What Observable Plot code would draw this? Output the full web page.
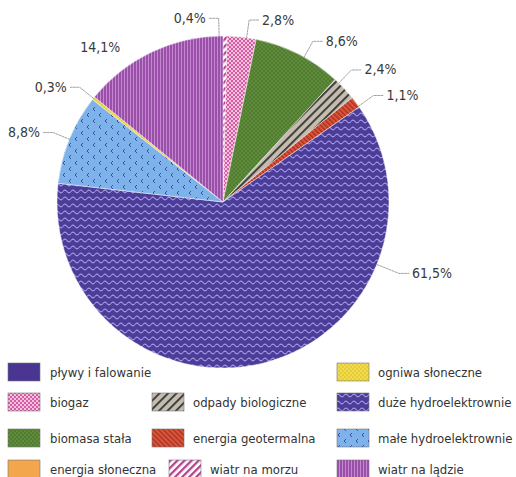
<!DOCTYPE html>
<html><head><meta charset="utf-8">
<script src="https://cdn.jsdelivr.net/npm/d3@7"></script>
<script src="https://cdn.jsdelivr.net/npm/@observablehq/plot@0.6"></script>
<style>body{margin:0;background:#fff}</style>
</head><body><div id="chart"></div>
<script>
// ---- data (clockwise from 12 o'clock) ----
const categories = ["wiatr na morzu","biogaz","biomasa stała","odpady biologiczne","energia geotermalna","duże hydroelektrownie","małe hydroelektrownie","ogniwa słoneczne","wiatr na lądzie"];
const shares = [0.4, 2.8, 8.6, 2.4, 1.1, 61.5, 8.8, 0.3, 14.1];
const legendRows = [
  ["pływy i falowanie", null, "ogniwa słoneczne"],
  ["biogaz", "odpady biologiczne", "duże hydroelektrownie"],
  ["biomasa stała", "energia geotermalna", "małe hydroelektrownie"],
  ["energia słoneczna", "wiatr na morzu", "wiatr na lądzie"]
];

const FONT = "'Liberation Sans Narrow','DejaVu Sans Condensed','Roboto',sans-serif";
const W = 516, H = 477;

// ---- pattern styles ----
const patternDefs = {
  "pływy i falowanie": {base: "#4b3592"},
  "energia słoneczna": {base: "#f3a64c"},
  "biogaz": {base: "#d65ba3", w: 4, h: 4, draw: p => {
    p.append("circle").attr("cx", 1).attr("cy", 1).attr("r", 1).attr("fill", "#fbe6f2");
    p.append("circle").attr("cx", 3).attr("cy", 3).attr("r", 1).attr("fill", "#fbe6f2");
  }},
  "biomasa stała": {base: "#5f8c3b", w: 4, h: 4, draw: p => {
    p.append("circle").attr("cx", 1).attr("cy", 1).attr("r", 0.8).attr("fill", "#3e6726");
    p.append("circle").attr("cx", 3).attr("cy", 3).attr("r", 0.8).attr("fill", "#3e6726");
  }},
  "ogniwa słoneczne": {base: "#f3dc4a", w: 4, h: 4, draw: p => {
    p.append("circle").attr("cx", 1).attr("cy", 1).attr("r", 0.7).attr("fill", "#cdb02a");
    p.append("circle").attr("cx", 3).attr("cy", 3).attr("r", 0.7).attr("fill", "#cdb02a");
  }},
  "odpady biologiczne": {base: "#c3bcaf", w: 6, h: 6, rot: 45, draw: p => {
    p.append("rect").attr("x", 0).attr("y", 0).attr("width", 1.8).attr("height", 6).attr("fill", "#343434");
  }},
  "energia geotermalna": {base: "#d8543a", w: 3.5, h: 3.5, rot: -45, draw: p => {
    p.append("rect").attr("x", 0).attr("y", 0).attr("width", 1.2).attr("height", 3.5).attr("fill", "#a32e1e");
  }},
  "wiatr na morzu": {base: "#ffffff", w: 5, h: 5, rot: 45, draw: p => {
    p.append("rect").attr("x", 0).attr("y", 0).attr("width", 2.3).attr("height", 5).attr("fill", "#b3418d");
  }},
  "duże hydroelektrownie": {base: "#4b3d98", w: 8, h: 7, draw: p => {
    p.append("path").attr("d", "M0,3.5 Q2,0.8 4,3.5 T8,3.5").attr("fill", "none")
      .attr("stroke", "#a59ce6").attr("stroke-width", 1.1);
  }},
  "małe hydroelektrownie": {base: "#7db2ea", w: 12, h: 12, draw: p => {
    p.append("path").attr("d", "M4,1 L2,3 L4,5 M10,7 L8,9 L10,11").attr("fill", "none")
      .attr("stroke", "#34449a").attr("stroke-width", 0.9);
  }},
  "wiatr na lądzie": {base: "#9a4fa9", w: 3, h: 3, draw: p => {
    p.append("rect").attr("x", 0).attr("y", 0).attr("width", 0.9).attr("height", 3).attr("fill", "#c98fd6");
  }}
};
const allNames = Object.keys(patternDefs);
const pid = name => "pat" + allNames.indexOf(name);
const fillOf = name => patternDefs[name].draw ? `url(#${pid(name)})` : patternDefs[name].base;

// ---- pie geometry (computed from data) ----
const arcs = d3.pie().sort(null).value(d => d)(shares);
const labelAngleOverride = {"wiatr na morzu": 358.5, "biogaz": 8, "biomasa stała": 29, "odpady biologiczne": 44, "energia geotermalna": 54.5, "duże hydroelektrownie": 112, "wiatr na lądzie": 327};
const noLeader = new Set(["wiatr na lądzie"]);
const R_ELBOW = 1.11, HSEG = 0.06;
const pt = (deg, r) => { const a = deg * Math.PI / 180; return [r * Math.sin(a), r * Math.cos(a)]; };

const labels = [];
const leaders = [];
arcs.forEach((a, i) => {
  const name = categories[i];
  let deg = (a.startAngle + a.endAngle) / 2 * 180 / Math.PI;
  if (labelAngleOverride[name] != null) deg = labelAngleOverride[name];
  const right = (deg % 360) < 180;
  const rim = pt(deg, 1.0);
  const elbow = pt(deg, R_ELBOW + (name === "duże hydroelektrownie" ? 0.03 : 0));
  const end = [elbow[0] + (right ? HSEG : -HSEG), elbow[1]];
  if (!noLeader.has(name)) {
    [rim, elbow, end].forEach(p => leaders.push({id: i, x: p[0], y: p[1]}));
  }
  labels.push({
    text: shares[i].toFixed(1).replace(".", ",") + "%",
    x: noLeader.has(name) ? elbow[0] : end[0], y: elbow[1], right
  });
});

// ---- render-function marks ----
function defsMark() {
  const g = d3.create("svg:g");
  const defs = g.append("defs");
  for (const name of allNames) {
    const s = patternDefs[name];
    if (!s.draw) continue;
    const p = defs.append("pattern").attr("id", pid(name)).attr("patternUnits", "userSpaceOnUse")
      .attr("width", s.w).attr("height", s.h);
    if (s.rot) p.attr("patternTransform", `rotate(${s.rot})`);
    p.append("rect").attr("width", s.w).attr("height", s.h).attr("fill", s.base);
    s.draw(p);
  }
  return g.node();
}
function pieMark(index, scales) {
  const cx = scales.x(0), cy = scales.y(0), r = scales.x(1) - scales.x(0);
  const arcGen = d3.arc().innerRadius(0).outerRadius(r);
  const g = d3.create("svg:g").attr("transform", `translate(${cx},${cy})`);
  g.selectAll("path").data(arcs).join("path")
    .attr("d", arcGen)
    .attr("fill", (d, i) => fillOf(categories[i]))
    .attr("stroke", "#f4f4f4").attr("stroke-width", 0.5);
  return g.node();
}
function legendMark() {
  const rowsY = [372, 402, 438, 469];
  const swX = [8, 152, 337], txX = [50, 193, 378];
  const g = d3.create("svg:g").attr("text-anchor", "start");
  legendRows.forEach((row, ri) => row.forEach((name, ci) => {
    if (!name) return;
    const shift = (ri === 3 && ci === 1) ? 17 : 0;
    const y = rowsY[ri];
    g.append("rect").attr("x", swX[ci] + shift).attr("y", y - 9).attr("width", 32).attr("height", 18)
      .attr("fill", fillOf(name)).attr("stroke", "#777").attr("stroke-width", 0.6);
    g.append("text").attr("x", txX[ci] + shift).attr("y", y).attr("dy", "0.35em")
      .attr("text-anchor", "start")
      .attr("font-family", FONT).attr("font-size", 13).attr("fill", "#333").text(name);
  }));
  return g.node();
}

const chart = Plot.plot({
  width: W, height: H,
  marginLeft: 57, marginRight: 127, marginTop: 36, marginBottom: 109,
  x: {domain: [-1, 1], axis: null},
  y: {domain: [-1, 1], axis: null},
  style: {fontFamily: FONT, background: "#fff", overflow: "visible"},
  marks: [
    defsMark,
    pieMark,
    Plot.line(leaders, {x: "x", y: "y", z: "id", stroke: "#8a8a8a", strokeWidth: 0.8, strokeDasharray: "2,1.2"}),
    Plot.text(labels.filter(d => d.right), {x: "x", y: "y", text: "text", textAnchor: "start", dx: 3, fontSize: 14, fill: "#3a3a3a"}),
    Plot.text(labels.filter(d => !d.right), {x: "x", y: "y", text: "text", textAnchor: "end", dx: -3, fontSize: 14, fill: "#3a3a3a"}),
    legendMark
  ]
});
document.getElementById("chart").appendChild(chart);
</script>
</body></html>
